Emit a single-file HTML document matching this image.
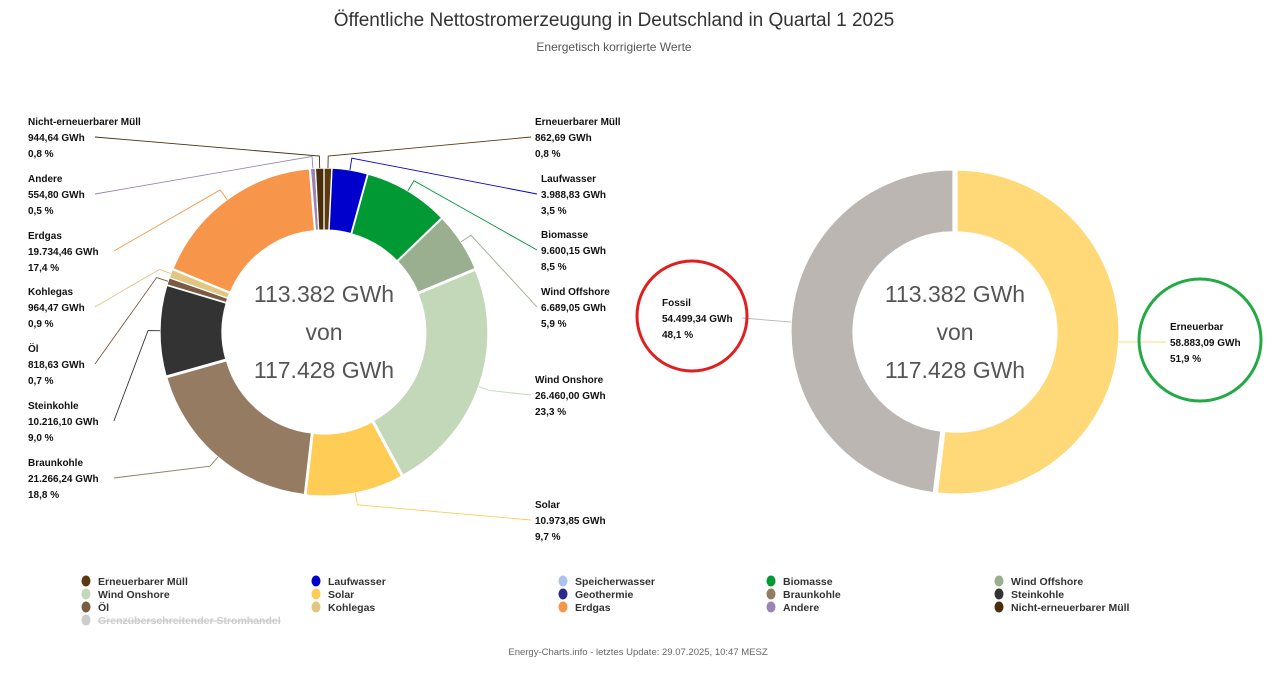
<!DOCTYPE html>
<html><head><meta charset="utf-8"><style>
body{margin:0;background:#fff;font-family:"Liberation Sans",sans-serif;}
svg text{font-family:"Liberation Sans",sans-serif;}
.lb{font-size:10px;font-weight:bold;fill:#111}
.lg{font-size:10.5px;font-weight:bold;fill:#333}
</style></head><body>
<svg id="c" width="1280" height="672" viewBox="0 0 1280 672">
<text x="614" y="26" text-anchor="middle" font-size="19" fill="#333">Öffentliche Nettostromerzeugung in Deutschland in Quartal 1 2025</text>
<text x="614" y="51" text-anchor="middle" font-size="12" fill="#555">Energetisch korrigierte Werte</text>
<g id="left"></g><g id="right"></g><g id="legend"></g>
<text x="638" y="655" text-anchor="middle" font-size="9.5" fill="#666">Energy-Charts.info - letztes Update: 29.07.2025, 10:47 MESZ</text>
</svg>
<script>
const names=["Erneuerbarer Müll","Laufwasser","Biomasse","Wind Offshore","Wind Onshore","Solar","Braunkohle","Steinkohle","Öl","Kohlegas","Erdgas","Andere","Nicht-erneuerbarer Müll"];
const values=[862.69,3988.83,9600.15,6689.05,26460.00,10973.85,21266.24,10216.10,818.63,964.47,19734.46,554.80,944.64];
const valueLabels=["862,69 GWh","3.988,83 GWh","9.600,15 GWh","6.689,05 GWh","26.460,00 GWh","10.973,85 GWh","21.266,24 GWh","10.216,10 GWh","818,63 GWh","964,47 GWh","19.734,46 GWh","554,80 GWh","944,64 GWh"];
const pctLabels=["0,8 %","3,5 %","8,5 %","5,9 %","23,3 %","9,7 %","18,8 %","9,0 %","0,7 %","0,9 %","17,4 %","0,5 %","0,8 %"];
const colors=["#5a3a0e","#0000cc","#009933","#9aaf90","#c3d8b9","#ffcc55","#957b61","#333333","#7a5c45","#e0c681","#f7964a","#9a85b5","#4a2e0a"];
const labelPos=[[535,121,1],[541,178,1],[541,234,1],[541,291,1],[535,379,1],[535,504,1],[28,462,0],[28,405,0],[28,348,0],[28,291,0],[28,235,0],[28,178,0],[28,121,0]];
const sumNames=["Erneuerbar","Fossil"];
const sumValues=[58883.09,54499.34];
const sumValueLabels=["58.883,09 GWh","54.499,34 GWh"];
const sumPct=["51,9 %","48,1 %"];
const sumColors=["#ffd978","#bbb6b2"];
const legendNames=["Erneuerbarer Müll","Laufwasser","Speicherwasser","Biomasse","Wind Offshore","Wind Onshore","Solar","Geothermie","Braunkohle","Steinkohle","Öl","Kohlegas","Erdgas","Andere","Nicht-erneuerbarer Müll","Grenzüberschreitender Stromhandel"];
const legendColors=["#5a3a0e","#0000cc","#aac4f0","#009933","#9aaf90","#c3d8b9","#ffcc55","#2a2a8a","#957b61","#333333","#7a5c45","#e0c681","#f7964a","#9a85b5","#4a2e0a","#cccccc"];
const NS="http://www.w3.org/2000/svg";
function mk(t,a,p){const e=document.createElementNS(NS,t);for(const k in a)e.setAttribute(k,a[k]);p.appendChild(e);return e;}
function pt(cx,cy,r,a){return [cx+r*Math.sin(a),cy-r*Math.cos(a)];}
function arc(cx,cy,R,r,a0,a1){const [x0,y0]=pt(cx,cy,R,a0),[x1,y1]=pt(cx,cy,R,a1),[x2,y2]=pt(cx,cy,r,a1),[x3,y3]=pt(cx,cy,r,a0);const l=a1-a0>Math.PI?1:0;
return `M${x0},${y0}A${R},${R} 0 ${l} 1 ${x1},${y1}L${x2},${y2}A${r},${r} 0 ${l} 0 ${x3},${y3}Z`;}
function donut(g,cx,cy,R,r,vals,cols,nm){
 const tot=vals.reduce((a,b)=>a+b,0);let a=0;const mids=[];
 vals.forEach((v,i)=>{const a1=a+v/tot*2*Math.PI;const m=(a+a1)/2;const off=2;
  const p=mk('path',{d:arc(cx+off*Math.sin(m),cy-off*Math.cos(m),R,r,a,a1),fill:cols[i],stroke:'#fff','stroke-width':1.2},g);
  
  
  mids.push(m);a=a1;});
 [["113.382 GWh",302],["von",340],["117.428 GWh",378]].forEach(([t,y])=>{const e=mk('text',{x:cx,y:y,'text-anchor':'middle','font-size':23,fill:'#555'},g);e.textContent=t;
  
  });
 return mids;}
function label(g,x,y,n,v,p,right){
 const t=mk('text',{x:x,y:y+4,class:'lb'},g);
 
 
 [n,v,p].forEach((s,i)=>{const ts=mk('tspan',{x:x,dy:i?16:0},t);ts.textContent=s;});}
const L=document.getElementById('left');
const cx=324,cy=332,R=162,r=100;
const mids=donut(L,cx,cy,R,r,values,colors,names);
names.forEach((n,i)=>{const [x,y,side]=labelPos[i];
 const [px,py]=pt(cx,cy,R+2,mids[i]);const [ex,ey]=pt(cx,cy,R+14,mids[i]);
 const ly=y+16;const lx=side?x-4:x+(valueLabels[i].length*6.3)+4;
 const ln=mk('polyline',{points:`${px},${py} ${ex},${ey} ${lx},${ly}`,fill:'none',stroke:colors[i],'stroke-width':0.9},L);
 
 
 label(L,x,y,n,valueLabels[i],pctLabels[i],side);});
const Rg=document.getElementById('right');
const mids2=donut(Rg,955,332,162,100,sumValues,sumColors,sumNames);
const sp=[[1170,326],[662,302]];
sumNames.forEach((n,i)=>{const [x,y]=sp[i];const [px,py]=pt(955,332,164,mids2[i]);
 const ln=mk('line',{x1:px,y1:py,x2:i?x+80:x-4,y2:y+16,stroke:sumColors[i],'stroke-width':0.9},Rg);
 
 
 label(Rg,x,y,n,sumValueLabels[i],sumPct[i],!i);});
const rc=mk('circle',{cx:692,cy:316,r:55,fill:'none',stroke:'#e02020','stroke-width':3},Rg);


const gc=mk('circle',{cx:1200,cy:340,r:61,fill:'none',stroke:'#22aa44','stroke-width':3},Rg);


const LG=document.getElementById('legend');
const colX=[80,310,557,765,993];
legendNames.forEach((n,i)=>{const x=colX[i%5],y=581+Math.floor(i/5)*13;
 const g=mk('g',{},LG);
 
 
 mk('ellipse',{cx:x+6,cy:y,rx:4.5,ry:5.5,fill:legendColors[i]},g);
 const t=mk('text',{x:x+18,y:y+4,class:'lg',fill:i==15?'#ccc':'#333'},g);
 if(i==15){t.setAttribute('text-decoration','line-through');t.style.fill='#ccc';}
 t.textContent=n;});
</script>
</body></html>
